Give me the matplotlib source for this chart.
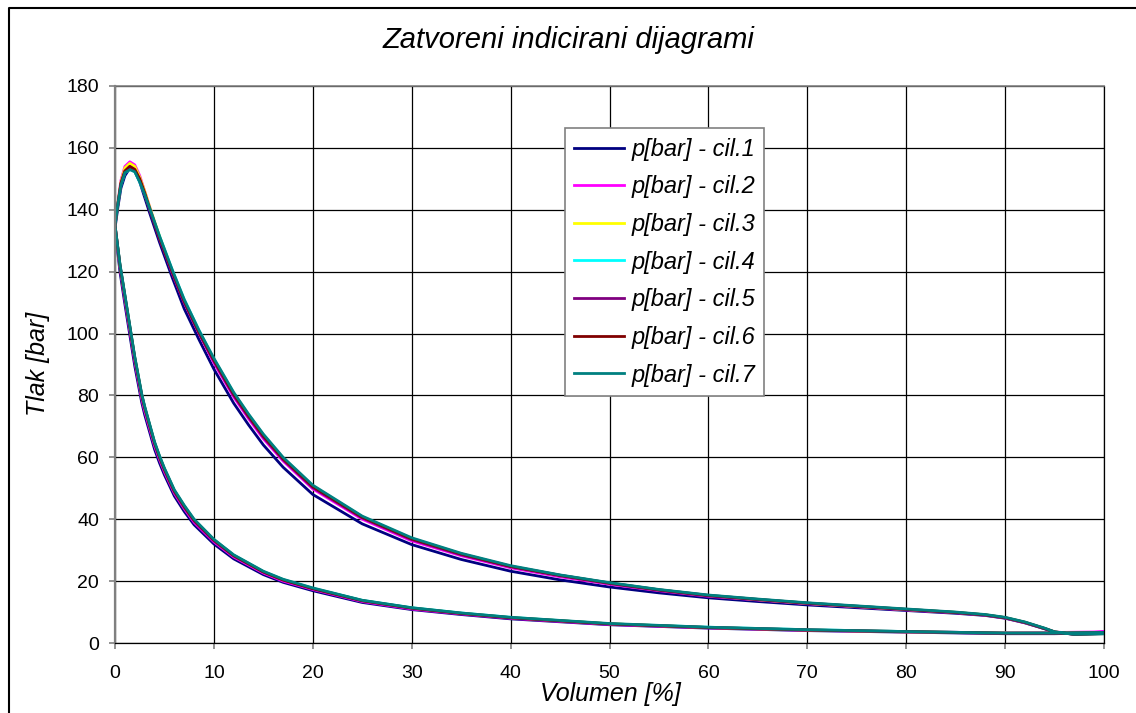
import numpy as np
import matplotlib.pyplot as plt
from matplotlib.lines import Line2D

# kompresija: volumen od 100 % prema 0 %
v_komp = [100, 95, 90, 80, 70, 60, 50, 40, 35, 30, 25, 20, 17, 15, 12, 10, 8, 7, 6, 5,
          4.5, 4, 3, 2.7, 2, 1.5, 1, 0.5, 0]
# ekspanzija: volumen od 0 % prema 100 %
v_eksp = [0, 0.3, 0.6, 1, 1.5, 2, 2.5, 3, 3.5, 4.5, 5.8, 7, 8.5, 10, 12, 13.5, 15, 17, 20, 25,
          30, 35, 40, 45, 50, 55, 60, 65, 70, 75, 80, 85, 88, 90, 92, 94, 95, 97, 100]

p1_komp = [3.3, 3.0, 3.0, 3.5, 4.0, 4.8, 5.9, 7.8, 9.2, 10.8, 13.1, 16.9, 19.6, 22.1, 27.2, 32.0,
           38.2, 42.5, 47.5, 54.3, 58.2, 62.6, 73.8, 77.8, 89.5, 99.5, 109.5, 120, 134]
p2_komp = [3.6, 3.4, 3.3, 3.6, 4.1, 4.9, 6.0, 8.0, 9.4, 11.0, 13.4, 17.3, 20.0, 22.6, 27.8, 32.7,
           39.0, 43.4, 48.4, 55.3, 59.3, 63.7, 75.0, 79.0, 91.0, 101.0, 111.0, 121.5, 135]
p3_komp = [3.4, 3.2, 3.2, 3.6, 4.2, 5.0, 6.2, 8.2, 9.6, 11.3, 13.7, 17.6, 20.4, 23.0, 28.2, 33.2,
           39.6, 44.0, 49.0, 56.0, 60.0, 64.5, 76.0, 80.0, 92.0, 102.0, 112.0, 122.0, 135]
p4_komp = [3.4, 3.2, 3.2, 3.7, 4.3, 5.1, 6.2, 8.3, 9.7, 11.4, 13.8, 17.7, 20.5, 23.1, 28.4, 33.4,
           39.8, 44.3, 49.3, 56.3, 60.3, 64.8, 76.3, 80.3, 92.3, 102.3, 112.3, 122.3, 135]
p5_komp = [3.3, 3.1, 3.1, 3.6, 4.2, 5.0, 6.1, 8.1, 9.5, 11.2, 13.6, 17.5, 20.3, 22.9, 28.1, 33.0,
           39.4, 43.8, 48.8, 55.8, 59.8, 64.3, 75.8, 79.8, 91.8, 101.8, 111.8, 122.0, 135]
p6_komp = [3.4, 3.2, 3.2, 3.7, 4.2, 5.0, 6.2, 8.2, 9.6, 11.3, 13.7, 17.6, 20.4, 23.0, 28.3, 33.3,
           39.7, 44.2, 49.2, 56.2, 60.2, 64.7, 76.2, 80.2, 92.2, 102.2, 112.2, 122.2, 135]
p7_komp = [3.4, 3.2, 3.2, 3.7, 4.3, 5.1, 6.3, 8.3, 9.7, 11.4, 13.8, 17.8, 20.6, 23.2, 28.5, 33.5,
           40.0, 44.5, 49.5, 56.5, 60.5, 65.0, 76.5, 80.5, 92.5, 102.5, 112.5, 122.5, 135]

p1_eksp = [134, 141, 147, 151, 153.5, 152.5, 149, 144, 139, 129.5, 118, 108, 98, 88.5, 77.5, 70.5,
           64, 56.8, 48, 38.5, 31.8, 27, 23.2, 20.4, 18.1, 16.2, 14.6, 13.4, 12.3, 11.4, 10.5, 9.6,
           8.9, 8.0, 6.5, 4.6, 3.5, 2.9, 3.3]
p2_eksp = [135, 142.5, 149.5, 154, 155.5, 154.5, 151, 146, 141, 131, 119.5, 110, 100, 90.5, 79.5,
           72.5, 66, 58.8, 49.8, 40, 33, 28.2, 24.3, 21.4, 19, 16.9, 15.1, 13.9, 12.7, 11.7, 10.7,
           9.8, 9.0, 8.1, 6.6, 4.7, 3.6, 3.1, 3.6]
p3_eksp = [135, 142.5, 149, 153.5, 155, 154, 150.5, 146, 141, 131.5, 120, 110.5, 100.5, 91.5, 80.5,
           73.5, 67, 59.5, 50.5, 40.6, 33.6, 28.7, 24.7, 21.8, 19.3, 17.1, 15.3, 14.0, 12.8, 11.8,
           10.8, 9.9, 9.1, 8.2, 6.7, 4.7, 3.6, 2.9, 3.1]
p4_eksp = [135, 142, 148, 152, 153, 152.3, 149, 145, 140.5, 131.5, 120.5, 111, 101, 91.8, 80.8,
           73.8, 67.3, 59.8, 50.8, 40.8, 33.8, 28.8, 24.8, 21.9, 19.4, 17.2, 15.4, 14.1, 12.9, 11.9,
           10.9, 9.9, 9.1, 8.2, 6.7, 4.7, 3.6, 2.8, 3.0]
p5_eksp = [135, 142, 148.5, 152.5, 154, 153, 149.5, 145, 140, 130.5, 119.5, 110, 100, 91, 80, 73,
           66.5, 59.2, 50.2, 40.4, 33.4, 28.5, 24.6, 21.7, 19.2, 17.0, 15.2, 14.0, 12.8, 11.8, 10.8,
           9.8, 9.0, 8.1, 6.6, 4.6, 3.5, 2.8, 3.1]
p6_eksp = [135, 142, 148.5, 152.5, 154, 153, 150, 145.5, 140.5, 131, 120, 110.5, 100.5, 91.5, 80.5,
           73.5, 67, 59.6, 50.6, 40.7, 33.7, 28.8, 24.8, 21.9, 19.4, 17.2, 15.4, 14.1, 12.9, 11.9,
           10.9, 9.9, 9.1, 8.2, 6.7, 4.7, 3.6, 2.8, 3.0]
p7_eksp = [135, 142, 148, 152, 153, 152.3, 149, 145, 140.5, 131.5, 120.5, 111, 101, 92, 81, 74,
           67.5, 60, 51, 41, 34, 29, 25, 22, 19.5, 17.3, 15.5, 14.2, 13, 12, 11, 10, 9.2, 8.3, 6.8,
           4.8, 3.6, 2.8, 3.0]

nazivi = ['p[bar] - cil.1', 'p[bar] - cil.2', 'p[bar] - cil.3', 'p[bar] - cil.4',
          'p[bar] - cil.5', 'p[bar] - cil.6', 'p[bar] - cil.7']
boje = ['#000080', '#FF00FF', '#FFFF00', '#00FFFF', '#800080', '#800000', '#008080']

komp = [p1_komp, p2_komp, p3_komp, p4_komp, p5_komp, p6_komp, p7_komp]
eksp = [p1_eksp, p2_eksp, p3_eksp, p4_eksp, p5_eksp, p6_eksp, p7_eksp]

plt.rcParams['font.family'] = ['Liberation Sans', 'DejaVu Sans']

fig = plt.figure(figsize=(11.36, 7.13), dpi=100)
ax = fig.add_axes([115 / 1136, 1 - 643 / 713, 989 / 1136, 557 / 713])

# zatvoreni dijagram = kompresija + ekspanzija
for pk, pe, boja, naziv in zip(komp, eksp, boje, nazivi):
    x = np.concatenate([v_komp, v_eksp])
    y = np.concatenate([pk, pe])
    ax.plot(x, y, color=boja, lw=2.0, label=naziv, solid_joinstyle='round')

ax.set_xlim(0, 100)
ax.set_ylim(0, 180)
ax.set_xticks(range(0, 101, 10))
ax.set_yticks(range(0, 181, 20))
ax.grid(True, color='black', lw=0.9)
ax.set_axisbelow(True)

ax.spines['left'].set_color('#808080')
ax.spines['left'].set_linewidth(1.6)
ax.spines['top'].set_color('#808080')
ax.spines['top'].set_linewidth(1.2)
ax.spines['right'].set_linewidth(0.9)
ax.spines['bottom'].set_linewidth(0.9)

ax.tick_params(axis='both', direction='out', length=4.5, width=1.2, color='#808080',
               labelsize=14)
ax.tick_params(axis='x', pad=11)
ax.tick_params(axis='y', pad=7)

fig.text(568 / 1136, 1 - 40 / 713, 'Zatvoreni indicirani dijagrami', fontsize=21,
         style='italic', ha='center', va='center')
fig.text(610 / 1136, 1 - 694 / 713, 'Volumen [%]', fontsize=18, style='italic',
         ha='center', va='center')
fig.text(38 / 1136, 1 - 364 / 713, 'Tlak [bar]', fontsize=18, style='italic',
         ha='center', va='center', rotation=90)

leg = ax.legend(loc='upper left', bbox_to_anchor=(0.455, 0.924), borderaxespad=0,
                fancybox=False, framealpha=1, edgecolor='#808080',
                prop={'style': 'italic', 'size': 17}, handlelength=2.1,
                handletextpad=0.3, labelspacing=0.62, borderpad=0.4)
leg.get_frame().set_linewidth(1.2)

# okvir oko cijele slike (lijevo i gore)
fig.add_artist(Line2D([9 / 1136, 9 / 1136, 1], [0, 1 - 8 / 713, 1 - 8 / 713],
                      color='black', lw=1.5))

plt.savefig('out.png', dpi=100)
